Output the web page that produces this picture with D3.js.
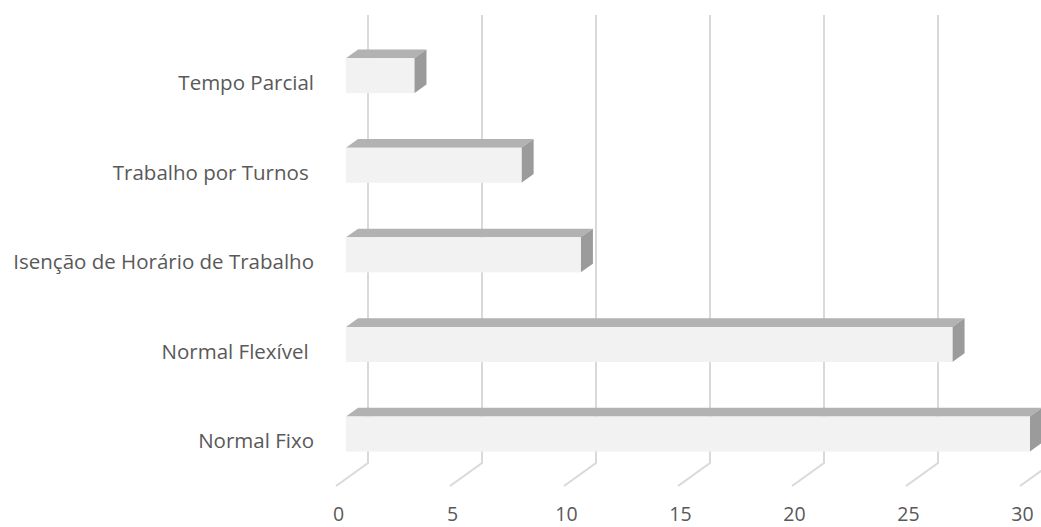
<!DOCTYPE html>
<html>
<head>
<meta charset="utf-8">
<script src="https://cdn.jsdelivr.net/npm/d3@7"></script>
<style>
  html, body { margin: 0; padding: 0; background: #ffffff; }
  svg { display: block; }
  text { font-family: "Open Sans", "Noto Sans", sans-serif; fill: #595959; }
</style>
</head>
<body>
<svg id="chart" width="1041" height="527"></svg>
<script>
// Working-time regimes, top to bottom
const categories = [
  "Tempo Parcial",
  "Trabalho por Turnos ",
  "Isenção de Horário de Trabalho",
  "Normal Flexível ",
  "Normal Fixo"
];
const values = [3.0, 7.7, 10.3, 26.6, 30.0];
const tickValues = [0, 5, 10, 15, 20, 25, 30];

const svg = d3.select("#chart");

// Back wall of the 3-D plot area
const wallTop = 15, wallBottom = 463;
const x = d3.scaleLinear().domain([0, 30]).range([368, 1052]);
const y = d3.scaleBand().domain(categories).range([wallTop, wallBottom]);

// Oblique depth: moving from the back wall to the front edge of the floor
const depthDx = -32, depthDy = 23;
const barBackDepth = 0.31, barFrontDepth = 0.69;
const barThick = 35;

// Gridlines: vertical on the back wall, then running forward across the floor
const grid = svg.append("g").attr("class", "grid");
grid.selectAll("path")
  .data(tickValues)
  .join("path")
  .attr("d", v => {
    const bx = x(v);
    return `M${bx},${wallTop}L${bx},${wallBottom}L${bx + depthDx},${wallBottom + depthDy}`;
  })
  .attr("fill", "none")
  .attr("stroke", "#d9d9d9")
  .attr("stroke-width", 2);

// Value axis labels along the front edge of the floor
svg.append("g").attr("class", "x-labels")
  .selectAll("text")
  .data(tickValues)
  .join("text")
  .attr("x", v => x(v) + depthDx + 2.5)
  .attr("y", 521)
  .attr("text-anchor", "middle")
  .style("font-size", "19.5px")
  .text(v => v);

// Category labels, aligned to the front plane
svg.append("g").attr("class", "y-labels")
  .selectAll("text")
  .data(categories)
  .join("text")
  .attr("x", 314)
  .attr("y", c => y(c) + y.bandwidth() / 2 + depthDy)
  .attr("dy", "0.35em")
  .attr("text-anchor", "end")
  .attr("xml:space", "preserve")
  .style("white-space", "pre")
  .style("font-size", "20.5px")
  .text(c => c);

// 3-D bars: top face, side face and front face
const bars = svg.append("g").attr("class", "bars")
  .selectAll("g")
  .data(categories.map((c, i) => ({ c, v: values[i] })))
  .join("g");

const fdx = depthDx * barFrontDepth, fdy = depthDy * barFrontDepth;
const bdx = depthDx * barBackDepth, bdy = depthDy * barBackDepth;

function geom(d) {
  const cy = y(d.c) + y.bandwidth() / 2;
  const fx0 = x(0) + fdx, fx1 = x(d.v) + fdx;
  const fyT = cy + fdy - barThick / 2, fyB = cy + fdy + barThick / 2;
  const ox = bdx - fdx, oy = bdy - fdy; // front -> back offset
  return { fx0, fx1, fyT, fyB, ox, oy };
}

bars.append("path")
  .attr("d", d => {
    const g = geom(d);
    return `M${g.fx0},${g.fyT}L${g.fx0 + g.ox},${g.fyT + g.oy}L${g.fx1 + g.ox},${g.fyT + g.oy}L${g.fx1},${g.fyT}Z`;
  })
  .attr("fill", "#b2b2b2");

bars.append("path")
  .attr("d", d => {
    const g = geom(d);
    return `M${g.fx1},${g.fyT}L${g.fx1 + g.ox},${g.fyT + g.oy}L${g.fx1 + g.ox},${g.fyB + g.oy}L${g.fx1},${g.fyB}Z`;
  })
  .attr("fill", "#9b9b9b");

bars.append("rect")
  .attr("x", d => geom(d).fx0)
  .attr("y", d => geom(d).fyT)
  .attr("width", d => geom(d).fx1 - geom(d).fx0)
  .attr("height", barThick)
  .attr("fill", "#f2f2f2");
</script>
</body>
</html>
